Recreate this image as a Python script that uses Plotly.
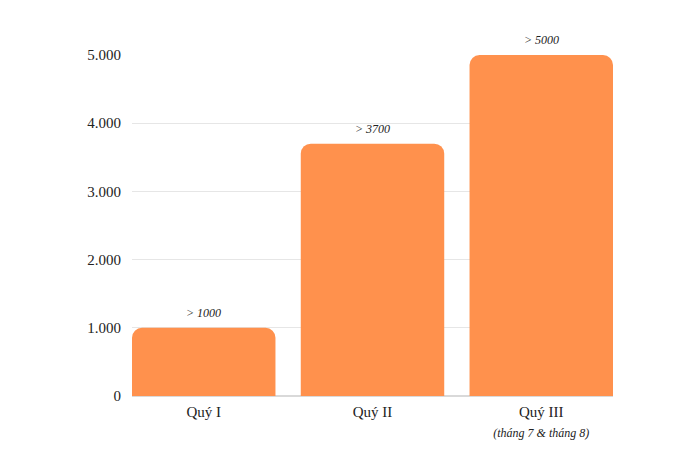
import plotly.graph_objects as go

# Data
categories = ["Quý I", "Quý II", "Quý III<br><i><span style='font-size:12px'>(tháng 7 &amp; tháng 8)</span></i>"]
values = [1000, 3700, 5000]
value_labels = ["> 1000", "> 3700", "> 5000"]
y_ticks = [0, 1000, 2000, 3000, 4000, 5000]

fig = go.Figure()

fig.add_trace(go.Bar(
    x=[0, 1, 2],
    y=values,
    marker=dict(color="#FF914D", cornerradius=10, line=dict(width=0)),
    width=0.85,
    hoverinfo="x+y",
))

# value labels sitting a bit above each bar
for i, (v, lab) in enumerate(zip(values, value_labels)):
    fig.add_annotation(
        x=i, y=v, text=lab, showarrow=False,
        yanchor="middle", yshift=15,
        font=dict(family="Liberation Serif", size=12, color="#222222", style="italic"),
    )

fig.update_layout(
    width=700,
    height=467,
    margin=dict(l=124, r=95, t=47, b=79),
    plot_bgcolor="white",
    paper_bgcolor="white",
    separators=",.",
    showlegend=False,
    font=dict(family="Liberation Serif", size=14, color="#222222"),
    xaxis=dict(
        tickmode="array",
        tickvals=[0, 1, 2],
        ticktext=categories,
        range=[-0.425, 2.425],
        showgrid=False,
        zeroline=False,
        showline=False,
        ticks="",
        ticklabelstandoff=5,
        tickfont=dict(size=15),
    ),
    yaxis=dict(
        range=[0, 5000],
        tickmode="array",
        tickvals=y_ticks,
        tickformat=",d",
        showgrid=True,
        gridcolor="#e6e6e6",
        gridwidth=1,
        zeroline=True,
        zerolinecolor="#d9d9d9",
        zerolinewidth=1.5,
        showline=False,
        ticks="",
        ticklabelstandoff=10,
        tickfont=dict(size=15),
    ),
)

fig.write_html("out.html")
